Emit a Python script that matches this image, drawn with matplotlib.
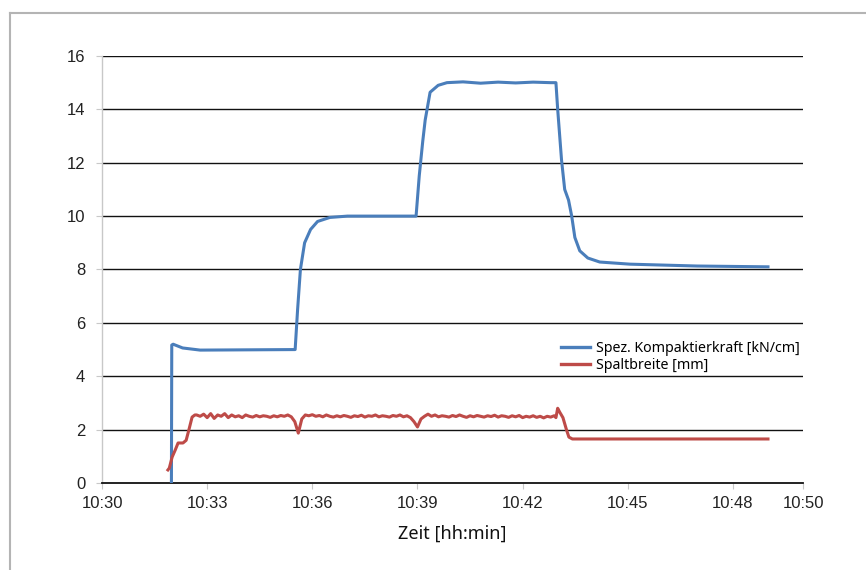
import numpy as np
import matplotlib
matplotlib.use("Agg")
import matplotlib.pyplot as plt
from matplotlib.lines import Line2D

# time in minutes after 10:30
kraft_t = [1.98, 1.99, 2.03, 2.3, 2.8, 5.51, 5.58, 5.66, 5.78, 5.95, 6.15, 6.5, 7.0,
           8.96, 9.05, 9.15, 9.22, 9.36, 9.59, 9.84, 10.3, 10.8, 11.3, 11.8, 12.3, 12.8,
           12.95, 13.0, 13.11, 13.2, 13.31, 13.4, 13.49, 13.63, 13.86, 14.2, 15.06, 16.98, 19.0]
kraft = [0.0, 5.17, 5.2, 5.06, 4.98, 5.0, 6.5, 8.0, 9.0, 9.5, 9.8, 9.95, 10.0,
         10.0, 11.5, 12.8, 13.6, 14.64, 14.9, 15.0, 15.03, 14.98, 15.02, 14.99, 15.02, 15.0,
         15.0, 14.0, 12.1, 11.0, 10.6, 10.0, 9.2, 8.7, 8.43, 8.28, 8.2, 8.13, 8.1]

# Spaltbreite: start-up, plateau sampled every 0.1 min (2.7 .. 12.9), run-out
spalt_start_t = [1.88, 1.92, 2.0, 2.09, 2.17, 2.31, 2.40, 2.48, 2.57, 2.65]
spalt_start = [0.49, 0.56, 0.97, 1.24, 1.5, 1.5, 1.6, 2.0, 2.47, 2.55]
spalt_plateau = [
    2.55, 2.5, 2.58, 2.45, 2.6, 2.42, 2.55, 2.5, 2.6, 2.45,
    2.55, 2.48, 2.52, 2.45, 2.55, 2.5, 2.47, 2.53, 2.48, 2.52,
    2.5, 2.46, 2.52, 2.48, 2.53, 2.5, 2.55, 2.48, 2.3, 1.87,
    2.4, 2.55, 2.52, 2.56, 2.5, 2.53, 2.48, 2.55, 2.5, 2.47,
    2.52, 2.48, 2.53, 2.5, 2.46, 2.52, 2.49, 2.54, 2.47, 2.52,
    2.5, 2.55, 2.48, 2.52, 2.5, 2.47, 2.53, 2.5, 2.55, 2.48,
    2.52, 2.45, 2.3, 2.1, 2.4, 2.5, 2.58, 2.5, 2.55, 2.48,
    2.52, 2.5, 2.47, 2.53, 2.49, 2.55, 2.5, 2.46, 2.52, 2.48,
    2.53, 2.5, 2.47, 2.52, 2.49, 2.54, 2.47, 2.52, 2.5, 2.46,
    2.52, 2.48, 2.53, 2.45, 2.5, 2.47, 2.52, 2.46, 2.5, 2.44,
    2.5, 2.47, 2.52]
spalt_end_t = [12.95, 13.0, 13.06, 13.15, 13.25, 13.32, 13.42, 19.0]
spalt_end = [2.45, 2.8, 2.65, 2.45, 2.0, 1.72, 1.65, 1.65]

x_ticks = [0, 3, 6, 9, 12, 15, 18, 20]
x_labels = ["10:30", "10:33", "10:36", "10:39", "10:42", "10:45", "10:48", "10:50"]
y_ticks = [0, 2, 4, 6, 8, 10, 12, 14, 16]

plateau_t = 2.7 + 0.1 * np.arange(len(spalt_plateau))
spalt_t = np.concatenate([spalt_start_t, plateau_t, spalt_end_t])
spalt = np.concatenate([spalt_start, spalt_plateau, spalt_end])

plt.rcParams["font.family"] = ["Liberation Sans", "DejaVu Sans"]

fig = plt.figure(figsize=(8.66, 5.70), dpi=100)
ax = fig.add_axes([0.1178, 0.1526, 0.8095, 0.7492])

blue = "#4A7EBB"
red = "#BE4B48"
ax.plot(kraft_t, kraft, color=blue, lw=2.2, solid_joinstyle="round", zorder=3)
ax.plot(spalt_t, spalt, color=red, lw=2.2, solid_joinstyle="round", zorder=3)

ax.set_xlim(0, 20)
ax.set_ylim(0, 16)
ax.set_xticks(x_ticks)
ax.set_xticklabels(x_labels)
ax.set_yticks(y_ticks)

for y in y_ticks[1:]:
    ax.axhline(y, color="#111111", lw=1.0, zorder=1)

for s in ["top", "right"]:
    ax.spines[s].set_visible(False)
ax.spines["left"].set_color("#c8c8c8")
ax.spines["left"].set_linewidth(1.0)
ax.spines["bottom"].set_color("#111111")
ax.spines["bottom"].set_linewidth(1.3)

ax.tick_params(axis="y", length=4, color="#c8c8c8", pad=8, labelsize=12, labelcolor="#222222")
ax.tick_params(axis="x", length=4, color="#c8c8c8", pad=5, labelsize=12, labelcolor="#222222")

ax.set_xlabel("Zeit [hh:min]", fontsize=13, family="Noto Sans", labelpad=10, color="#111111")

handles = [Line2D([], [], color=blue, lw=2.4), Line2D([], [], color=red, lw=2.4)]
fig.legend(handles, ["Spez. Kompaktierkraft [kN/cm]", "Spaltbreite [mm]"],
           loc="upper left", bbox_to_anchor=(0.64, 0.415), frameon=False,
           prop={"family": "Noto Sans", "size": 10.2}, handlelength=2.0,
           handletextpad=0.45, labelspacing=0.2, borderpad=0.0)

# outer frame (top and left edges only visible)
fig.add_artist(Line2D([0.012, 1.0], [0.977, 0.977], color="#b4b4b4", lw=1.5, transform=fig.transFigure))
fig.add_artist(Line2D([0.012, 0.012], [0.0, 0.977], color="#b4b4b4", lw=1.5, transform=fig.transFigure))

fig.savefig("out.png", dpi=100)
